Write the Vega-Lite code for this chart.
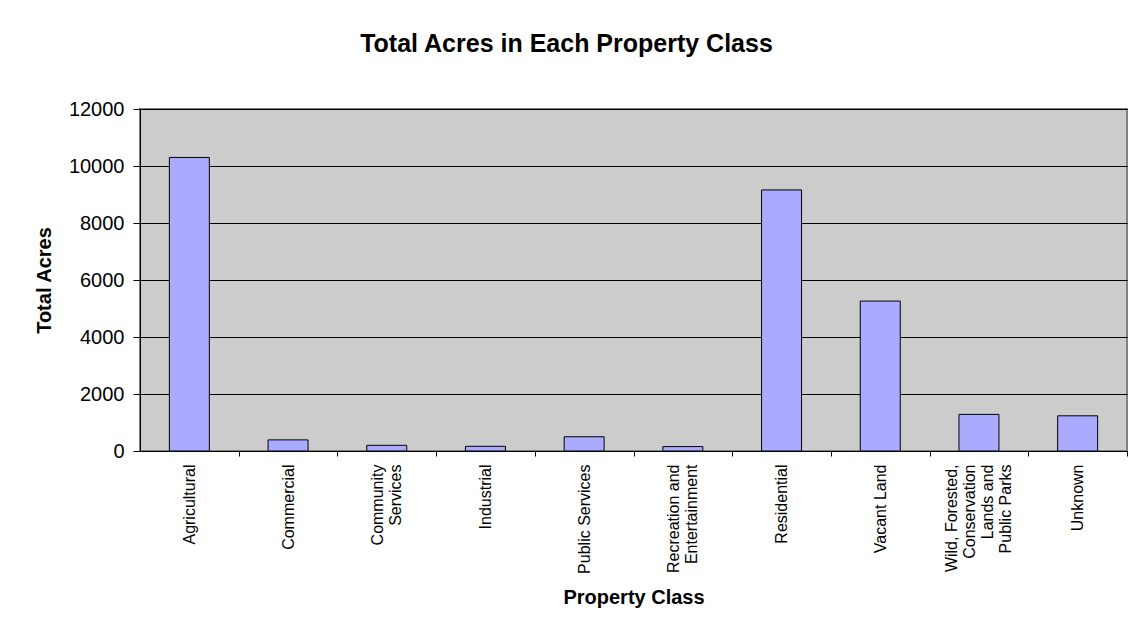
{
  "$schema": "https://vega.github.io/schema/vega-lite/v6.json",
  "width": 987,
  "height": 342,
  "autosize": "none",
  "padding": {"left": 140, "top": 109, "right": 5, "bottom": 176},
  "background": "white",
  "title": {
    "text": "Total Acres in Each Property Class",
    "font": "Liberation Sans",
    "fontSize": 25,
    "fontWeight": "bold",
    "color": "black",
    "anchor": "middle",
    "dx": -67,
    "offset": 42
  },
  "data": {
    "values": [
      {"class": "Agricultural", "acres": 10300},
      {"class": "Commercial", "acres": 390},
      {"class": "Community Services", "acres": 200},
      {"class": "Industrial", "acres": 165},
      {"class": "Public Services", "acres": 500},
      {"class": "Recreation and Entertainment", "acres": 155},
      {"class": "Residential", "acres": 9160},
      {"class": "Vacant Land", "acres": 5260},
      {"class": "Wild, Forested, Conservation Lands and Public Parks", "acres": 1285},
      {"class": "Unknown", "acres": 1235}
    ]
  },
  "mark": {"type": "bar", "color": "#AAAAFF", "stroke": "black", "strokeWidth": 1},
  "encoding": {
    "x": {
      "field": "class",
      "type": "nominal",
      "sort": null,
      "scale": {"paddingInner": 0.595, "paddingOuter": 0.2975},
      "axis": {
        "title": "Property Class",
        "titleFont": "Liberation Sans",
        "titleFontSize": 20,
        "titleFontWeight": "bold",
        "titleColor": "black",
        "titleY": 146,
        "titleBaseline": "middle",
        "labelFont": "Liberation Sans",
        "labelFontSize": 16,
        "labelColor": "black",
        "labelAngle": 270,
        "labelAlign": "right",
        "labelBaseline": "middle",
        "labelPadding": 8,
        "labelLineHeight": 18,
        "labelOffset": {
          "condition": [
            {"test": "datum.value == 'Community Services' || datum.value == 'Recreation and Entertainment'", "value": -58.35},
            {"test": "datum.value == 'Wild, Forested, Conservation Lands and Public Parks'", "value": -76.35}
          ],
          "value": -49.35
        },
        "tickOffset": 49.35,
        "labelLimit": 300,
        "labelExpr": "datum.label == 'Community Services' ? ['Community', 'Services\u00a0\u00a0'] : datum.label == 'Recreation and Entertainment' ? ['Recreation and', 'Entertainment\u00a0'] : datum.label == 'Wild, Forested, Conservation Lands and Public Parks' ? ['Wild, Forested,', 'Conservation\u00a0\u00a0', 'Lands and\u00a0\u00a0\u00a0\u00a0', 'Public Parks\u00a0\u00a0'] : datum.label",
        "domainColor": "black",
        "domainWidth": 1,
        "tickColor": "black",
        "tickSize": 5,
        "grid": false
      }
    },
    "y": {
      "field": "acres",
      "type": "quantitative",
      "scale": {"domain": [0, 12000], "nice": false},
      "axis": {
        "title": "Total Acres",
        "titleFont": "Liberation Sans",
        "titleFontSize": 20,
        "titleFontWeight": "bold",
        "titleColor": "black",
        "titleX": -96,
        "titleBaseline": "middle",
        "values": [0, 2000, 4000, 6000, 8000, 10000, 12000],
        "format": "d",
        "labelFont": "Liberation Sans",
        "labelFontSize": 20,
        "labelColor": "black",
        "labelPadding": 9,
        "domainColor": "black",
        "domainWidth": 1,
        "tickColor": "black",
        "tickSize": 7,
        "grid": true,
        "gridColor": "black",
        "gridWidth": 1,
        "gridOpacity": 1
      }
    }
  },
  "config": {
    "view": {"fill": "#CCCCCC", "stroke": "#808080", "strokeWidth": 2}
  }
}
